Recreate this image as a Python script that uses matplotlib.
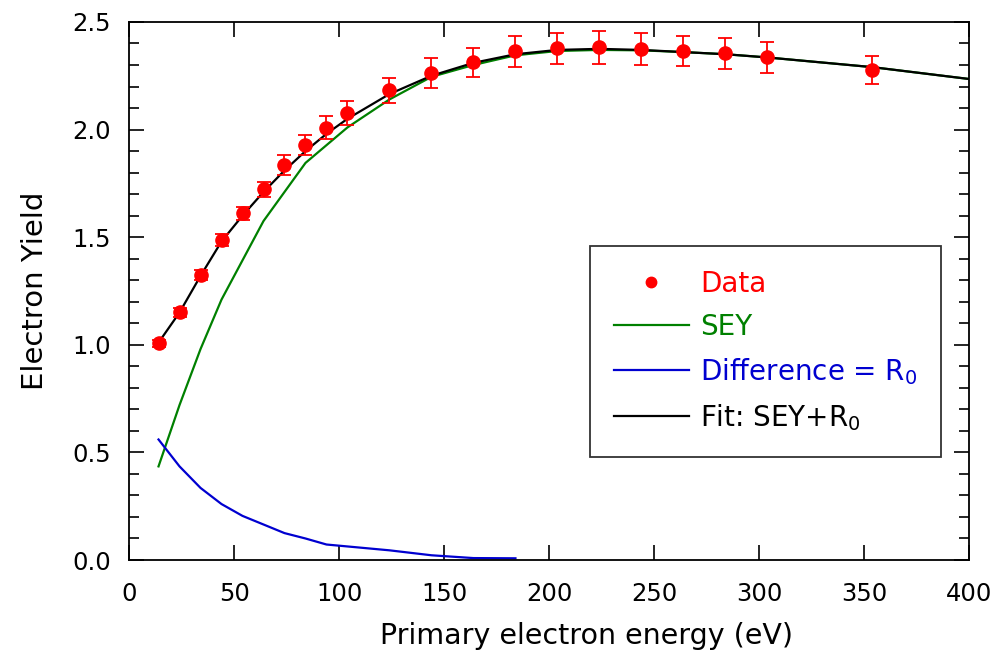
import numpy as np
import matplotlib
matplotlib.use("Agg")
import matplotlib.pyplot as plt
from matplotlib.lines import Line2D

# measured data
energy = [14, 24, 34, 44, 54, 64, 74, 84, 94, 104, 124, 144, 164, 184, 204, 224, 244, 264, 284, 304, 354]
yield_data = [1.007, 1.151, 1.324, 1.487, 1.611, 1.722, 1.835, 1.928, 2.008, 2.078, 2.183, 2.264, 2.312, 2.364,
              2.377, 2.383, 2.374, 2.365, 2.355, 2.337, 2.277]
yield_err = [0.015, 0.02, 0.022, 0.027, 0.029, 0.036, 0.046, 0.046, 0.053, 0.055, 0.058, 0.069, 0.066, 0.072,
             0.071, 0.077, 0.074, 0.072, 0.072, 0.072, 0.064]

# fit curves
fit_x = [14, 24, 34, 44, 54, 64, 74, 84, 94, 104, 124, 144, 164, 184, 204, 224, 244, 264, 284, 304, 354, 400]
fit_y = [1.01, 1.15, 1.32, 1.48, 1.60, 1.71, 1.81, 1.90, 1.98, 2.05, 2.165, 2.25, 2.31, 2.35, 2.37, 2.375,
         2.37, 2.36, 2.35, 2.335, 2.29, 2.235]

sey_x = [14, 24, 34, 44, 64, 84, 104, 124, 144, 164, 184, 204, 224, 244, 264, 284, 304, 354, 400]
sey_y = [0.435, 0.72, 0.98, 1.21, 1.575, 1.845, 2.01, 2.14, 2.245, 2.30, 2.345, 2.365, 2.37, 2.368, 2.36,
         2.35, 2.335, 2.29, 2.235]

diff_x = [14, 24, 34, 44, 54, 64, 74, 84, 94, 104, 124, 144, 164, 184]
diff_y = [0.56, 0.435, 0.335, 0.26, 0.205, 0.165, 0.125, 0.10, 0.072, 0.063, 0.045, 0.022, 0.009, 0.008]

plt.rcParams['font.family'] = ['DejaVu Sans']

fig = plt.figure(figsize=(10.01, 6.53), dpi=100)
ax = fig.add_axes([0.129, 0.1424, 0.839, 0.824])

red = '#ff0000'
green = '#008000'
blue = '#0000d0'

ax.plot(sey_x, sey_y, color=green, lw=1.6)
ax.plot(diff_x, diff_y, color=blue, lw=1.6)
ax.plot(fit_x, fit_y, color='black', lw=1.6)
ax.errorbar(energy, yield_data, yerr=yield_err, fmt='o', color=red, ms=9.5, elinewidth=1.3,
            capsize=4.7, capthick=1.3, zorder=5)

ax.set_xlim(0, 400)
ax.set_ylim(0, 2.5)
ax.set_xticks(np.arange(0, 401, 50))
ax.set_yticks(np.arange(0, 2.51, 0.5))
ax.set_yticks(np.arange(0, 2.51, 0.1), minor=True)
ax.yaxis.set_major_formatter(matplotlib.ticker.FormatStrFormatter('%.1f'))
ax.tick_params(which='both', direction='in', top=True, right=True, labelsize=17.5, width=1.2)
ax.tick_params(axis='y', pad=13)
ax.tick_params(axis='x', pad=16)
ax.tick_params(which='major', length=10.5)
ax.tick_params(which='minor', length=7)
for s in ax.spines.values():
    s.set_linewidth(1.3)

ax.set_xlabel('Primary electron energy (eV)', fontsize=20.5)
ax.xaxis.set_label_coords(0.545, -0.116)
ax.set_ylabel('Electron Yield', fontsize=21, labelpad=17)

handles = [
    Line2D([], [], ls='none', marker='o', color=red, ms=7.5),
    Line2D([], [], color=green, lw=1.6),
    Line2D([], [], color=blue, lw=1.6),
    Line2D([], [], color='black', lw=1.6),
]
labels = ['Data', 'SEY', 'Difference = R$_0$', 'Fit: SEY+R$_0$']
leg = ax.legend(handles, labels, loc='upper left',
                bbox_to_anchor=(0.549, 0.5837), borderaxespad=0, fontsize=20, frameon=True,
                fancybox=False, edgecolor='black', handlelength=2.7, handletextpad=0.4,
                borderpad=0.85, labelspacing=0.55)
leg.get_frame().set_linewidth(1.3)
for txt, c in zip(leg.get_texts(), [red, green, blue, 'black']):
    txt.set_color(c)

fig.savefig('out.png', dpi=100)
